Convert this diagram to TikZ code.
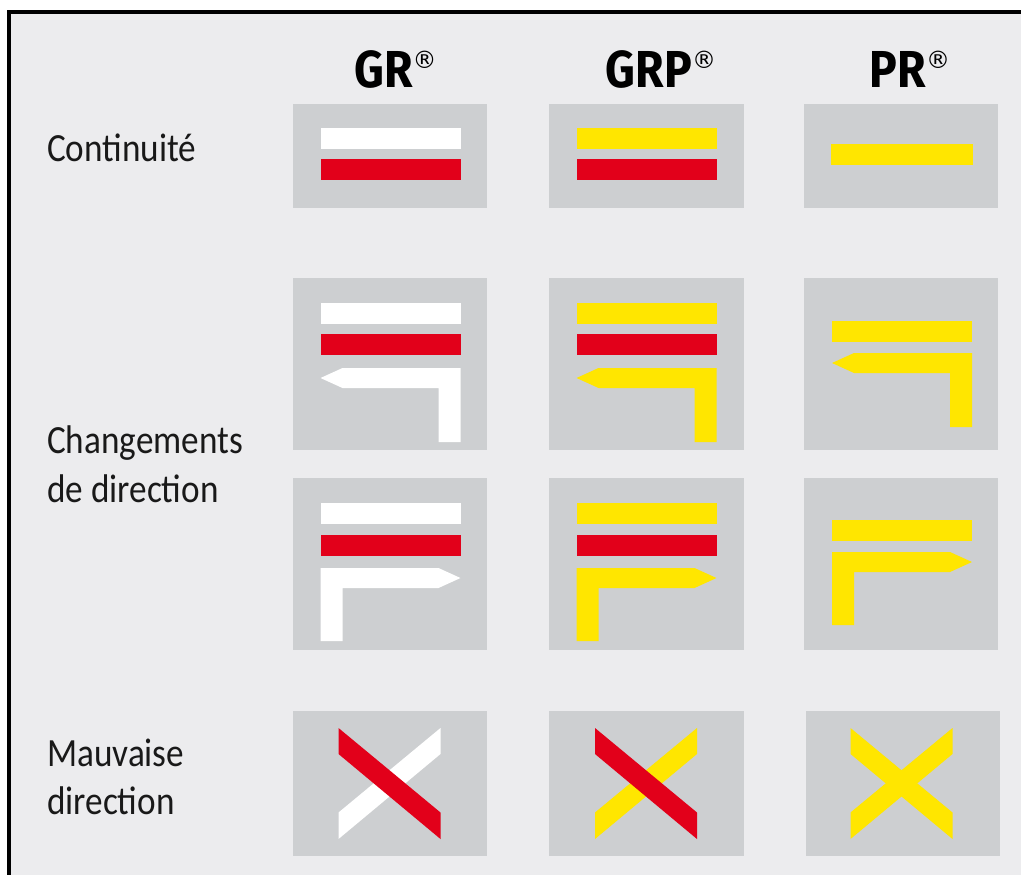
\documentclass[tikz,border=0pt]{standalone}
\usepackage{fontspec}
\setmainfont{Carlito}
\newfontfamily\headfont{Fira Sans}[UprightFont=* Bold]
\newfontfamily\regfont{DejaVu Sans}
\definecolor{pagebg}{HTML}{ECECEE}
\definecolor{panel}{HTML}{CDCFD1}
\definecolor{mred}{HTML}{E2001A}
\definecolor{myel}{HTML}{FFE600}
\newcommand{\rmark}{\raisebox{19pt}{\regfont\fontsize{24}{24}\selectfont ®}}
\newcommand{\headtxt}[1]{\scalebox{.89}[1]{\headfont\fontsize{52}{52}\selectfont #1}\rmark}
\newcommand{\labtxt}[1]{\scalebox{.88}[1]{#1}}
\tikzset{
  x=1pt,y=-1pt,
  lab/.style={anchor=base west,inner sep=0pt,font=\fontsize{40}{40}\selectfont,text=black!90},
  head/.style={anchor=base,inner sep=0pt},
  pnl/.style={fill=panel,draw=none},
  wh/.style={fill=white,draw=none},
  re/.style={fill=mred,draw=none},
  ye/.style={fill=myel,draw=none},
}
% #1 style, #2 left x, #3 top y
\newcommand{\hbarmark}[3]{\fill[#1] (#2,#3) rectangle ++(140,21);}
\newcommand{\arrL}[3]{\fill[#1] (#2,#3+10) -- (#2+22,#3) -- (#2+140,#3) -- (#2+140,#3+74) -- (#2+118,#3+74) -- (#2+118,#3+20) -- (#2+22,#3+20) -- cycle;}
\newcommand{\arrR}[3]{\fill[#1] (#2+140,#3+10) -- (#2+118,#3) -- (#2,#3) -- (#2,#3+73) -- (#2+22,#3+73) -- (#2+22,#3+20) -- (#2+118,#3+20) -- cycle;}
\newcommand{\xdown}[3]{\fill[#1] (#2,#3) -- (#2+102,#3+84.5) -- (#2+102,#3+111) -- (#2,#3+26) -- cycle;}
\newcommand{\xup}[3]{\fill[#1] (#2+102,#3) -- (#2,#3+84.5) -- (#2,#3+111) -- (#2+102,#3+26) -- cycle;}
\begin{document}
\begin{tikzpicture}
\useasboundingbox (0,0) rectangle (1021,875);
\fill[white] (0,0) rectangle (1021,875);
\fill[pagebg] (9,12) rectangle (1021,875);
\draw[line width=3.5pt,black] (9,875) -- (9,12) -- (1021,12);
% headers
\node[head] (hgr) at (395.5,88) {\headtxt{GR}};
\node[head] (hgrp) at (661,88) {\headtxt{GRP}};
\node[head] (hpr) at (910,88) {\headtxt{PR}};
% labels
\node[lab] (l1) at (47,161) {\labtxt{Continuité}};
\node[lab] (l2) at (47,453) {\labtxt{Changements}};
\node[lab] (l3) at (47,502) {\labtxt{de direction}};
\node[lab] (l4) at (47,766) {\labtxt{Mauvaise}};
\node[lab] (l5) at (47,814) {\labtxt{direction}};
% panels
\fill[pnl] (293,104) rectangle (487,208);
\fill[pnl] (549,104) rectangle (744,208);
\fill[pnl] (804,104) rectangle (998,208);
\fill[pnl] (293,278) rectangle (487,450);
\fill[pnl] (549,278) rectangle (744,450);
\fill[pnl] (804,278) rectangle (998,450);
\fill[pnl] (293,478) rectangle (487,650);
\fill[pnl] (549,478) rectangle (744,650);
\fill[pnl] (804,478) rectangle (998,650);
\fill[pnl] (293,711) rectangle (487,856);
\fill[pnl] (549,711) rectangle (744,856);
\fill[pnl] (806,711) rectangle (1000,856);
% row 1
\hbarmark{wh}{320.5}{128} \hbarmark{re}{320.5}{159}
\hbarmark{ye}{576.5}{128} \hbarmark{re}{576.5}{159}
\fill[ye] (831,144) rectangle (973,165);
% row 2
\hbarmark{wh}{320.5}{303} \hbarmark{re}{320.5}{334} \arrL{wh}{320.5}{368}
\hbarmark{ye}{576.5}{303} \hbarmark{re}{576.5}{334} \arrL{ye}{576.5}{368}
\hbarmark{ye}{832}{321} \arrL{ye}{832}{353}
% row 3
\hbarmark{wh}{320.5}{503} \hbarmark{re}{320.5}{535} \arrR{wh}{320.5}{568}
\hbarmark{ye}{576.5}{503} \hbarmark{re}{576.5}{535} \arrR{ye}{576.5}{568}
\hbarmark{ye}{832}{520} \arrR{ye}{832}{552}
% row 4
\xup{wh}{338.5}{728} \xdown{re}{338.5}{728}
\xup{ye}{595}{728} \xdown{re}{595}{728}
\xup{ye}{850.5}{728} \xdown{ye}{850.5}{728}
\end{tikzpicture}
\end{document}
